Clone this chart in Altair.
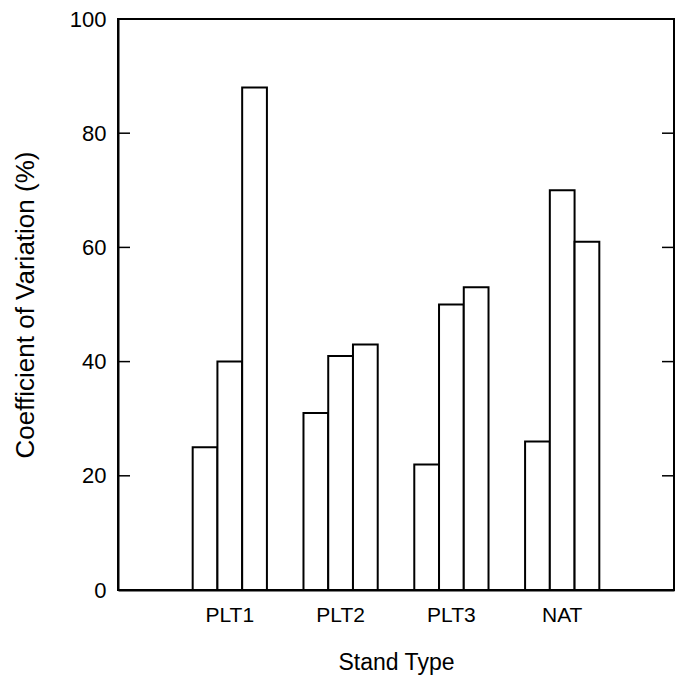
import altair as alt
import pandas as pd

stands = ["PLT1", "PLT2", "PLT3", "NAT"]
series = ["S1", "S2", "S3"]
cv_s1 = [25, 31, 22, 26]
cv_s2 = [40, 41, 50, 70]
cv_s3 = [88, 43, 53, 61]
y_ticks = [0, 20, 40, 60, 80, 100]
inner_ticks = [20, 40, 60, 80]

rows = []
for i, s in enumerate(stands):
    for ser, vals in zip(series, [cv_s1, cv_s2, cv_s3]):
        rows.append({"stand": s, "series": ser, "cv": vals[i]})
df = pd.DataFrame(rows)
tick_df = pd.DataFrame({"cv": inner_ticks})

W, H = 556, 571
FONT = "Liberation Sans"

bars = alt.Chart(df).mark_bar(fill="white", stroke="black", strokeWidth=2).encode(
    x=alt.X(
        "stand:N",
        sort=stands,
        scale=alt.Scale(paddingInner=0.33, paddingOuter=0.674),
        axis=alt.Axis(
            title="Stand Type", labelAngle=0, ticks=False, labelPadding=14,
            titlePadding=26, labelFontSize=21, titleFontSize=23,
        ),
    ),
    xOffset=alt.XOffset("series:N", sort=series,
                        scale=alt.Scale(paddingInner=0, paddingOuter=0)),
    y=alt.Y(
        "cv:Q",
        scale=alt.Scale(domain=[0, 100], nice=False),
        axis=alt.Axis(
            values=y_ticks, title="Coefficient of Variation (%)", ticks=False,
            grid=False, labelPadding=12, titlePadding=31, labelFontSize=22,
            titleFontSize=26,
        ),
    ),
)

left_ticks = alt.Chart(tick_df).mark_rule(color="black", strokeWidth=1.5).encode(
    y=alt.Y("cv:Q"), x=alt.value(0), x2=alt.value(12)
)
right_ticks = alt.Chart(tick_df).mark_rule(color="black", strokeWidth=1.5).encode(
    y=alt.Y("cv:Q"), x=alt.value(W - 12), x2=alt.value(W)
)

chart = (
    alt.layer(bars, left_ticks, right_ticks)
    .properties(
        width=W, height=H,
        autosize=alt.AutoSizeParams(type="none"),
        padding={"left": 110, "top": 11, "right": 1, "bottom": 86},
    )
    .configure_view(stroke="black", strokeWidth=2)
    .configure_axis(
        domainColor="black", domainWidth=2, labelColor="black", titleColor="black",
        labelFont=FONT, titleFont=FONT, titleFontWeight="normal",
    )
)

chart.save("out.html", embed_options={"renderer": "svg", "actions": False})
